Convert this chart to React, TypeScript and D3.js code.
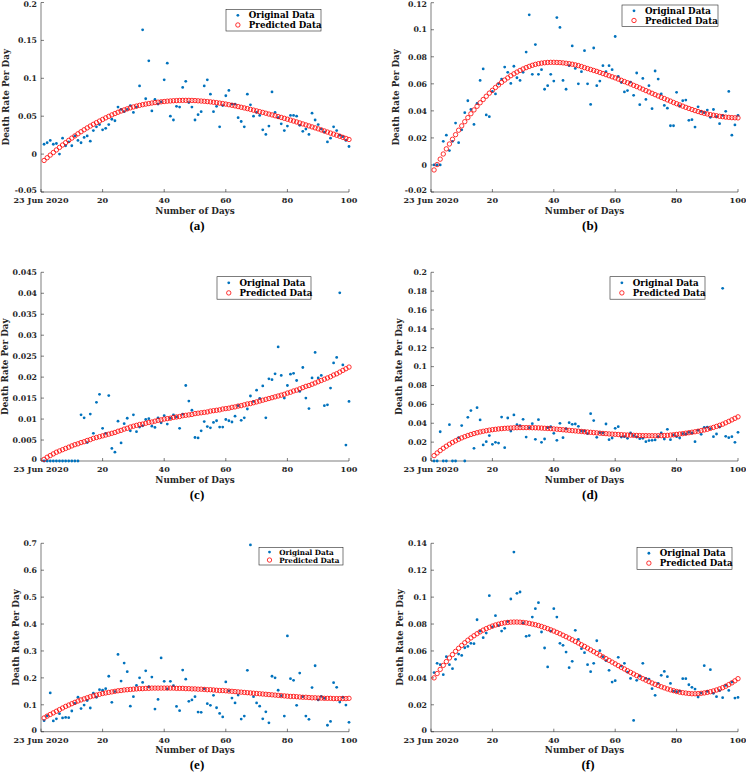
import React from 'react'
import * as d3 from 'd3'

// day index of every sample
const days = d3.range(1, 101)

const xTicks = [0, 20, 40, 60, 80, 100]
const xTickLabels = ['23 Jun 2020', '20', '40', '60', '80', '100']

const yTicksA = [-0.05, 0, 0.05, 0.1, 0.15, 0.2]
const yLabelsA = ['-0.05', '0', '0.05', '0.1', '0.15', '0.2']
const yTicksB = [-0.02, 0, 0.02, 0.04, 0.06, 0.08, 0.1, 0.12]
const yLabelsB = ['-0.02', '0', '0.02', '0.04', '0.06', '0.08', '0.1', '0.12']
const yTicksC = [0, 0.005, 0.01, 0.015, 0.02, 0.025, 0.03, 0.035, 0.04, 0.045]
const yLabelsC = ['0', '0.005', '0.01', '0.015', '0.02', '0.025', '0.03', '0.035', '0.04', '0.045']
const yTicksD = [0, 0.02, 0.04, 0.06, 0.08, 0.1, 0.12, 0.14, 0.16, 0.18, 0.2]
const yLabelsD = ['0', '0.02', '0.04', '0.06', '0.08', '0.1', '0.12', '0.14', '0.16', '0.18', '0.2']
const yTicksE = [0, 0.1, 0.2, 0.3, 0.4, 0.5, 0.6, 0.7]
const yLabelsE = ['0', '0.1', '0.2', '0.3', '0.4', '0.5', '0.6', '0.7']
const yTicksF = [0, 0.02, 0.04, 0.06, 0.08, 0.1, 0.12, 0.14]
const yLabelsF = ['0', '0.02', '0.04', '0.06', '0.08', '0.1', '0.12', '0.14']

const origA = [
  0.013, 0.015, 0.018, 0.013, 0.014, 0.0, 0.021, 0.011, 0.016, 0.011,
  0.024, 0.018, 0.015, 0.022, 0.024, 0.017, 0.031, 0.036, 0.039, 0.032,
  0.034, 0.039, 0.046, 0.044, 0.062, 0.059, 0.056, 0.059, 0.064, 0.055,
  0.062, 0.090, 0.164, 0.073, 0.123, 0.057, 0.072, 0.066, 0.069, 0.098,
  0.120, 0.050, 0.045, 0.063, 0.062, 0.088, 0.096, 0.068, 0.062, 0.045,
  0.052, 0.056, 0.090, 0.098, 0.079, 0.056, 0.063, 0.036, 0.064, 0.077,
  0.084, 0.066, 0.066, 0.048, 0.043, 0.036, 0.079, 0.065, 0.050, 0.055,
  0.051, 0.032, 0.026, 0.037, 0.082, 0.055, 0.048, 0.040, 0.031, 0.037,
  0.051, 0.051, 0.050, 0.038, 0.030, 0.033, 0.026, 0.054, 0.045, 0.039,
  0.033, 0.029, 0.016, 0.021, 0.036, 0.031, 0.025, 0.023, 0.018, 0.010,
]
const predA = [
  -0.0084, -0.0048, -0.0013, 0.0021, 0.0055, 0.0088, 0.012, 0.0151, 0.0181, 0.0211,
  0.024, 0.0268, 0.0295, 0.0321, 0.0346, 0.037, 0.0393, 0.0415, 0.0436, 0.0457,
  0.0478, 0.0498, 0.0517, 0.0535, 0.0552, 0.0568, 0.0583, 0.0597, 0.061, 0.0622,
  0.0633, 0.0643, 0.0652, 0.066, 0.0667, 0.0674, 0.068, 0.0685, 0.069, 0.0694,
  0.0698, 0.0701, 0.0704, 0.0706, 0.0708, 0.0709, 0.0709, 0.0709, 0.0708, 0.0706,
  0.0703, 0.07, 0.0697, 0.0693, 0.0689, 0.0684, 0.0679, 0.0673, 0.0667, 0.066,
  0.0652, 0.0644, 0.0636, 0.0627, 0.0618, 0.0609, 0.06, 0.059, 0.058, 0.057,
  0.056, 0.055, 0.0539, 0.0528, 0.0517, 0.0506, 0.0495, 0.0484, 0.0472, 0.046,
  0.0448, 0.0436, 0.0424, 0.0411, 0.0398, 0.0385, 0.0372, 0.0359, 0.0346, 0.0333,
  0.0319, 0.0305, 0.0291, 0.0277, 0.0263, 0.0249, 0.0235, 0.0221, 0.0207, 0.0193,
]

const origB = [
  0, 0, 0, 0.0175, 0.022, 0.0106, 0.0175, 0.031, 0.0165, 0.026,
  0.0387, 0.0475, 0.041, 0.03, 0.0455, 0.0625, 0.071, 0.037, 0.0357, 0.0544,
  0.0525, 0.06, 0.0635, 0.0724, 0.0685, 0.0603, 0.073, 0.0645, 0.0625, 0.0685,
  0.0835, 0.111, 0.067, 0.089, 0.067, 0.0705, 0.056, 0.0586, 0.067, 0.062,
  0.109, 0.1017, 0.0625, 0.056, 0.0734, 0.088, 0.0714, 0.06, 0.069, 0.0845,
  0.06, 0.0448, 0.0865, 0.0586, 0.062, 0.0734, 0.069, 0.0734, 0.0705, 0.095,
  0.0655, 0.061, 0.054, 0.055, 0.0613, 0.0515, 0.068, 0.0446, 0.064, 0.0485,
  0.0586, 0.0416, 0.0695, 0.0635, 0.0525, 0.044, 0.042, 0.029, 0.029, 0.0537,
  0.0436, 0.0475, 0.048, 0.033, 0.0335, 0.028, 0.043, 0.0397, 0.0387, 0.0406,
  0.0352, 0.041, 0.0357, 0.0305, 0.0367, 0.0397, 0.0544, 0.022, 0.0296, 0.0367,
]
const predB = [
  -0.0037, 0.0003, 0.0043, 0.0081, 0.0119, 0.0155, 0.019, 0.0224, 0.0257, 0.0289,
  0.032, 0.035, 0.0379, 0.0407, 0.0434, 0.046, 0.0484, 0.0508, 0.0531, 0.0552,
  0.0573, 0.0592, 0.0611, 0.0628, 0.0644, 0.066, 0.0674, 0.0687, 0.0699, 0.071,
  0.072, 0.0729, 0.0737, 0.0744, 0.0749, 0.0753, 0.0756, 0.0758, 0.0759, 0.0759,
  0.0758, 0.0757, 0.0755, 0.0752, 0.0749, 0.0745, 0.074, 0.0735, 0.0728, 0.072,
  0.0713, 0.0706, 0.0699, 0.0692, 0.0684, 0.0676, 0.0668, 0.066, 0.0652, 0.0644,
  0.0635, 0.0626, 0.0617, 0.0608, 0.0599, 0.0589, 0.058, 0.057, 0.056, 0.055,
  0.054, 0.053, 0.052, 0.051, 0.05, 0.0491, 0.0481, 0.0472, 0.0462, 0.0453,
  0.0444, 0.0435, 0.0426, 0.0418, 0.041, 0.0402, 0.0395, 0.0388, 0.0382, 0.0377,
  0.0372, 0.0368, 0.0364, 0.036, 0.0357, 0.0354, 0.0352, 0.035, 0.0349, 0.0348,
]

const origC = [
  0, 0, 0, 0, 0, 0, 0, 0, 0, 0,
  0, 0, 0.011, 0.0103, 0.0044, 0.0112, 0.0066, 0.014, 0.0159, 0.0078,
  0.0066, 0.0156, 0.003, 0.0021, 0.0095, 0.0043, 0.0089, 0.0102, 0.0072, 0.011,
  0.007, 0.0081, 0.0084, 0.0099, 0.0101, 0.0083, 0.008, 0.0103, 0.0091, 0.0108,
  0.0088, 0.0102, 0.011, 0.0105, 0.0078, 0.0112, 0.018, 0.0143, 0.0121, 0.0056,
  0.0055, 0.0072, 0.0094, 0.0082, 0.0079, 0.0092, 0.0096, 0.0081, 0.0081, 0.0099,
  0.0096, 0.0093, 0.0107, 0.0132, 0.0097, 0.0103, 0.0124, 0.0155, 0.0142, 0.0169,
  0.0149, 0.0179, 0.0103, 0.0196, 0.0194, 0.0208, 0.0272, 0.0204, 0.015, 0.018,
  0.0207, 0.0209, 0.0192, 0.0166, 0.0223, 0.015, 0.0125, 0.0198, 0.0259, 0.0198,
  0.0204, 0.0132, 0.0134, 0.0174, 0.0234, 0.0247, 0.0401, 0.0229, 0.0038, 0.0142,
]
const predC = [
  0.0004, 0.0009, 0.0013, 0.0017, 0.0021, 0.0024, 0.0027, 0.003, 0.0033, 0.0036,
  0.0039, 0.0041, 0.0044, 0.0046, 0.0049, 0.0051, 0.0054, 0.0056, 0.0058, 0.006,
  0.0062, 0.0064, 0.0066, 0.0068, 0.0071, 0.0073, 0.0076, 0.0078, 0.0081, 0.0083,
  0.0085, 0.0087, 0.0088, 0.009, 0.0092, 0.0093, 0.0095, 0.0097, 0.0098, 0.01,
  0.0101, 0.0102, 0.0104, 0.0105, 0.0106, 0.0108, 0.0109, 0.011, 0.0111, 0.0113,
  0.0114, 0.0115, 0.0116, 0.0117, 0.0119, 0.012, 0.0121, 0.0122, 0.0124, 0.0125,
  0.0126, 0.0128, 0.0129, 0.0131, 0.0132, 0.0134, 0.0136, 0.0137, 0.0139, 0.0141,
  0.0143, 0.0145, 0.0147, 0.0149, 0.0151, 0.0153, 0.0155, 0.0157, 0.0159, 0.0162,
  0.0164, 0.0167, 0.0169, 0.0172, 0.0175, 0.0178, 0.018, 0.0183, 0.0186, 0.0189,
  0.0192, 0.0195, 0.0198, 0.0201, 0.0205, 0.0208, 0.0212, 0.0216, 0.022, 0.0224,
]

const origD = [
  0, 0, 0.031, 0, 0, 0.0385, 0, 0, 0.0247, 0.0375,
  0, 0.0463, 0.0534, 0.0134, 0.0565, 0.0435, 0.017, 0.0205, 0.0269, 0.0177,
  0.0198, 0.019, 0.0466, 0.0141, 0.0456, 0.0318, 0.0488, 0.0385, 0.0375, 0.0442,
  0.0254, 0.0353, 0.0396, 0.023, 0.0438, 0.0198, 0.0233, 0.0353, 0.0364, 0.0293,
  0.0219, 0.0399, 0.0247, 0.0343, 0.0406, 0.0389, 0.0392, 0.0367, 0.0318, 0.0318,
  0.029, 0.0502, 0.0428, 0.0251, 0.03, 0.0297, 0.0392, 0.0226, 0.0244, 0.0346,
  0.0364, 0.0254, 0.0258, 0.024, 0.0297, 0.0269, 0.0254, 0.0237, 0.024, 0.0205,
  0.0216, 0.0219, 0.0223, 0.0258, 0.0297, 0.0233, 0.0336, 0.0226, 0.0276, 0.0258,
  0.0244, 0.029, 0.0286, 0.0304, 0.0297, 0.0205, 0.0325, 0.0283, 0.0357, 0.036,
  0.0343, 0.0258, 0.0286, 0.036, 0.183, 0.0261, 0.0247, 0.0258, 0.0198, 0.0304,
]
const predD = [
  0.0057, 0.0085, 0.0111, 0.0135, 0.0157, 0.0178, 0.0197, 0.0214, 0.023, 0.0245,
  0.0258, 0.027, 0.0281, 0.0291, 0.03, 0.0308, 0.0315, 0.0321, 0.0327, 0.0332,
  0.0336, 0.034, 0.0343, 0.0346, 0.0348, 0.035, 0.0352, 0.0353, 0.0354, 0.0354,
  0.0354, 0.0354, 0.0353, 0.0352, 0.0351, 0.0349, 0.0347, 0.0345, 0.0343, 0.034,
  0.0337, 0.0334, 0.0331, 0.0328, 0.0325, 0.0322, 0.0319, 0.0316, 0.0313, 0.031,
  0.0307, 0.0304, 0.0301, 0.0298, 0.0295, 0.0292, 0.029, 0.0287, 0.0285, 0.0283,
  0.0281, 0.0279, 0.0277, 0.0275, 0.0274, 0.0272, 0.0271, 0.027, 0.0269, 0.0269,
  0.0268, 0.0268, 0.0268, 0.0268, 0.0269, 0.027, 0.0272, 0.0275, 0.0278, 0.0282,
  0.0286, 0.029, 0.0295, 0.03, 0.0305, 0.031, 0.0316, 0.0322, 0.0329, 0.0336,
  0.0346, 0.0356, 0.0367, 0.0378, 0.039, 0.0405, 0.042, 0.0436, 0.0452, 0.0468,
]

const origE = [
  0.041, 0.059, 0.144, 0.04, 0.048, 0.067, 0.051, 0.053, 0.052, 0.077,
  0.105, 0.128, 0.086, 0.099, 0.116, 0.088, 0.143, 0.128, 0.156, 0.154,
  0.16, 0.206, 0.109, 0.149, 0.287, 0.188, 0.255, 0.223, 0.095, 0.13,
  0.172, 0.2, 0.183, 0.226, 0.167, 0.203, 0.084, 0.12, 0.274, 0.187,
  0.159, 0.187, 0.171, 0.094, 0.078, 0.229, 0.195, 0.113, 0.118, 0.13,
  0.073, 0.072, 0.159, 0.104, 0.098, 0.135, 0.089, 0.068, 0.055, 0.185,
  0.152, 0.125, 0.107, 0.136, 0.047, 0.058, 0.228, 0.694, 0.13, 0.107,
  0.095, 0.048, 0.074, 0.033, 0.206, 0.2, 0.154, 0.134, 0.058, 0.356,
  0.197, 0.191, 0.098, 0.218, 0.13, 0.058, 0.046, 0.164, 0.245, 0.118,
  0.131, 0.124, 0.024, 0.038, 0.182, 0.165, 0.11, 0.128, 0.099, 0.035,
]
const predE = [
  0.051, 0.058, 0.064, 0.07, 0.076, 0.082, 0.088, 0.094, 0.099, 0.104,
  0.109, 0.114, 0.118, 0.122, 0.126, 0.13, 0.133, 0.136, 0.139, 0.142,
  0.144, 0.146, 0.148, 0.15, 0.152, 0.153, 0.155, 0.156, 0.157, 0.158,
  0.159, 0.16, 0.16, 0.161, 0.161, 0.162, 0.162, 0.162, 0.162, 0.162,
  0.162, 0.162, 0.162, 0.161, 0.161, 0.161, 0.16, 0.16, 0.159, 0.159,
  0.158, 0.158, 0.157, 0.156, 0.156, 0.155, 0.154, 0.153, 0.153, 0.152,
  0.151, 0.15, 0.149, 0.148, 0.147, 0.146, 0.145, 0.144, 0.143, 0.142,
  0.141, 0.14, 0.139, 0.138, 0.137, 0.136, 0.135, 0.134, 0.133, 0.132,
  0.131, 0.131, 0.13, 0.129, 0.128, 0.128, 0.127, 0.126, 0.126, 0.125,
  0.125, 0.124, 0.124, 0.124, 0.123, 0.123, 0.123, 0.123, 0.123, 0.124,
]

const origF = [
  0.0439, 0.0508, 0.0498, 0.0424, 0.0557, 0.0498, 0.0468, 0.0538, 0.0577, 0.0567,
  0.0624, 0.0634, 0.0657, 0.0654, 0.0832, 0.0748, 0.0699, 0.0733, 0.1011, 0.0778,
  0.0862, 0.0788, 0.0748, 0.0768, 0.0818, 0.0986, 0.1335, 0.1028, 0.1038, 0.0808,
  0.0709, 0.0714, 0.0852, 0.0914, 0.0959, 0.0741, 0.0622, 0.0481, 0.0748, 0.0914,
  0.0852, 0.0657, 0.0642, 0.0592, 0.0476, 0.0523, 0.0753, 0.0686, 0.0617, 0.0587,
  0.0498, 0.0446, 0.0508, 0.0676, 0.0602, 0.0557, 0.0528, 0.0456, 0.0369, 0.0379,
  0.0553, 0.0488, 0.0508, 0.0443, 0.0396, 0.0084, 0.0382, 0.0414, 0.0508, 0.0396,
  0.0391, 0.032, 0.027, 0.0359, 0.0419, 0.0448, 0.0409, 0.0359, 0.0302, 0.0297,
  0.0302, 0.0394, 0.0394, 0.0349, 0.033, 0.0317, 0.0258, 0.0287, 0.0491, 0.03,
  0.0461, 0.0285, 0.026, 0.0305, 0.0253, 0.0344, 0.0307, 0.0369, 0.025, 0.0255,
]
const predF = [
  0.04, 0.0432, 0.0463, 0.0493, 0.0521, 0.0548, 0.0573, 0.0597, 0.062, 0.0641,
  0.0661, 0.068, 0.0697, 0.0713, 0.0728, 0.0742, 0.0755, 0.0766, 0.0776, 0.0785,
  0.0793, 0.0799, 0.0805, 0.0809, 0.0812, 0.0814, 0.0815, 0.0815, 0.0814, 0.0812,
  0.0809, 0.0805, 0.08, 0.0795, 0.0789, 0.0782, 0.0774, 0.0766, 0.0757, 0.0748,
  0.0738, 0.0728, 0.0717, 0.0706, 0.0695, 0.0683, 0.0671, 0.0659, 0.0646, 0.0634,
  0.0621, 0.0608, 0.0595, 0.0582, 0.0569, 0.0556, 0.0543, 0.053, 0.0517, 0.0504,
  0.0491, 0.0478, 0.0466, 0.0453, 0.0441, 0.0429, 0.0417, 0.0405, 0.0394, 0.0383,
  0.0372, 0.0362, 0.0352, 0.0343, 0.0334, 0.0326, 0.0318, 0.0311, 0.0305, 0.0299,
  0.0294, 0.029, 0.0287, 0.0284, 0.0282, 0.0282, 0.0283, 0.0285, 0.0288, 0.0292,
  0.0297, 0.0303, 0.031, 0.0318, 0.0327, 0.0338, 0.035, 0.0363, 0.0378, 0.0394,
]

const BLUE = '#0072BD'
const RED = '#FF0000'
const INK = '#262626'
const FONT = "'DejaVu Serif', serif"

const panels = [
  {id: 'a', orig: origA, pred: predA, yTicks: yTicksA, yLabels: yLabelsA,
    x0: 41, x1: 349, yTop: 2.5, yBot: 192, labelX: 6,
    legend: {x: 226, y: 9.5, w: 95, h: 21.5, fs: 8.7}, capX: 197},
  {id: 'b', orig: origB, pred: predB, yTicks: yTicksB, yLabels: yLabelsB,
    x0: 431, x1: 738, yTop: 2.7, yBot: 192, labelX: 396,
    legend: {x: 622, y: 5, w: 96, h: 21.5, fs: 8.7}, capX: 590},
  {id: 'c', orig: origC, pred: predC, yTicks: yTicksC, yLabels: yLabelsC,
    x0: 41, x1: 349, yTop: 272.3, yBot: 461, labelX: 5,
    legend: {x: 217, y: 276.7, w: 94, h: 22.5, fs: 8.7}, capX: 197},
  {id: 'd', orig: origD, pred: predD, yTicks: yTicksD, yLabels: yLabelsD,
    x0: 431, x1: 738, yTop: 272.3, yBot: 461, labelX: 399,
    legend: {x: 610, y: 276.7, w: 95, h: 22.5, fs: 8.7}, capX: 590},
  {id: 'e', orig: origE, pred: predE, yTicks: yTicksE, yLabels: yLabelsE,
    x0: 41, x1: 349, yTop: 543.3, yBot: 731.7, labelX: 16,
    legend: {x: 259, y: 547.3, w: 84, h: 17.7, fs: 7.2}, capX: 197},
  {id: 'f', orig: origF, pred: predF, yTicks: yTicksF, yLabels: yLabelsF,
    x0: 431, x1: 738, yTop: 543.3, yBot: 731.7, labelX: 400,
    legend: {x: 637, y: 547.3, w: 95, h: 22, fs: 8.7}, capX: 588},
]

function Panel({p}) {
  const x = d3.scaleLinear().domain([0, 100]).range([p.x0, p.x1])
  const y = d3.scaleLinear()
    .domain([p.yTicks[0], p.yTicks[p.yTicks.length - 1]])
    .range([p.yBot, p.yTop])
  const lg = p.legend
  const row1 = lg.y + lg.h * 0.27
  const row2 = lg.y + lg.h * 0.72
  const mx = lg.x + lg.w * 0.125
  const tx = lg.x + lg.w * 0.24
  return <g>
    {/* axes */}
    <line x1={p.x0} x2={p.x0} y1={p.yTop} y2={p.yBot} stroke={INK} strokeWidth={0.6} />
    <line x1={p.x0} x2={p.x1} y1={p.yBot} y2={p.yBot} stroke={INK} strokeWidth={0.6} />
    {p.yTicks.map((t, i) => <g key={'y' + i}>
      <line x1={p.x0} x2={p.x0 + 3} y1={y(t)} y2={y(t)} stroke={INK} strokeWidth={0.6} />
      <text x={p.x0 - 4} y={i === 0 ? y(t) - 1.5 : Math.max(y(t), 4.2)} dy="0.35em" textAnchor="end"
        fontFamily={FONT} fontWeight="bold" fontSize={7.8} fill={INK}>{p.yLabels[i]}</text>
    </g>)}
    {xTicks.map((t, i) => <g key={'x' + i}>
      <line x1={x(t)} x2={x(t)} y1={p.yBot} y2={p.yBot - 3} stroke={INK} strokeWidth={0.6} />
      <text x={x(t)} y={p.yBot + 8.3} dy="0.35em" textAnchor="middle"
        fontFamily={FONT} fontWeight="bold" fontSize={8.1} fill={INK}>{xTickLabels[i]}</text>
    </g>)}
    <text x={(p.x0 + p.x1) / 2} y={p.yBot + 18.5} dy="0.35em" textAnchor="middle"
      fontFamily={FONT} fontWeight="bold" fontSize={8.8} fill={INK}>Number of Days</text>
    <text transform={`translate(${p.labelX},${(p.yTop + p.yBot) / 2}) rotate(-90)`}
      dy="0.35em" textAnchor="middle"
      fontFamily={FONT} fontWeight="bold" fontSize={8.8} fill={INK}>Death Rate Per Day</text>

    {/* data */}
    {days.map((d, i) => <circle key={'o' + i} cx={x(d)} cy={y(p.orig[i])} r={1.4} fill={BLUE} />)}
    {days.map((d, i) => <circle key={'p' + i} cx={x(d)} cy={y(p.pred[i])} r={2.2}
      fill="none" stroke={RED} strokeWidth={0.8} />)}

    {/* legend */}
    <rect x={lg.x} y={lg.y} width={lg.w} height={lg.h} fill="white" stroke={INK} strokeWidth={0.6} />
    <circle cx={mx} cy={row1} r={1.4} fill={BLUE} />
    <circle cx={mx} cy={row2} r={2.2} fill="none" stroke={RED} strokeWidth={0.8} />
    <text x={tx} y={row1} dy="0.35em" fontFamily={FONT} fontWeight="bold" fontSize={lg.fs} fill="#000">Original Data</text>
    <text x={tx} y={row2} dy="0.35em" fontFamily={FONT} fontWeight="bold" fontSize={lg.fs} fill="#000">Predicted Data</text>

    {/* caption */}
    <text x={p.capX} y={p.yBot + 33} dy="0.35em" textAnchor="middle"
      fontFamily="'Liberation Serif', serif" fontWeight="bold" fontSize={13} fill="#000">({p.id})</text>
  </g>
}

export default function App() {
  return <svg width={746} height={780} style={{position: 'absolute', left: 0, top: 0, background: 'white'}}>
    <rect width={746} height={780} fill="white" />
    {panels.map(p => <Panel key={p.id} p={p} />)}
  </svg>
}
